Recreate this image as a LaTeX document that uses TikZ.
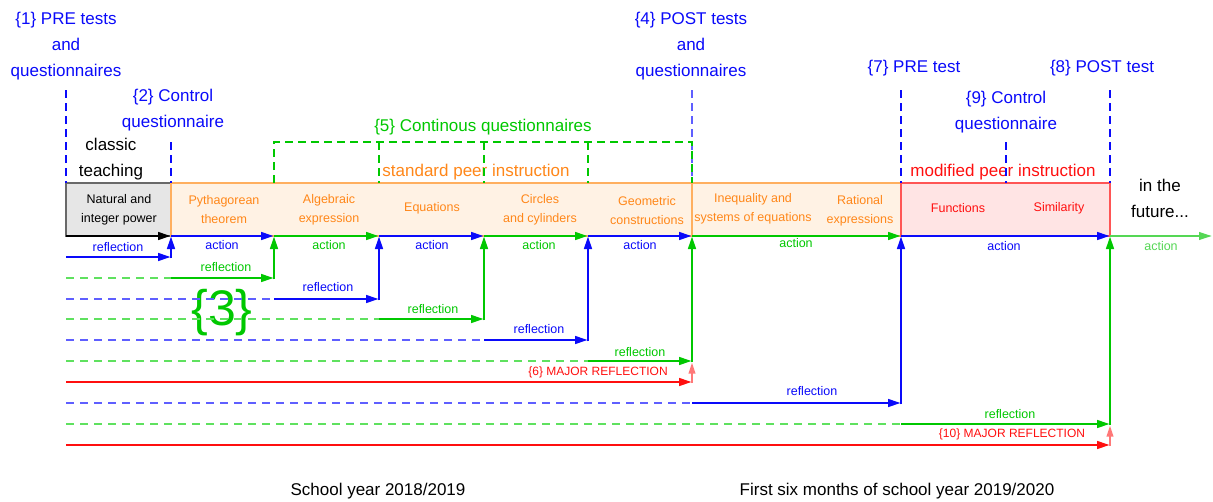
\documentclass[tikz,border=0pt]{standalone}
\usepackage{fontspec}
\setmainfont{Liberation Sans}
\usetikzlibrary{arrows.meta}
\definecolor{cblue}{RGB}{10,10,250}
\definecolor{cgreen}{RGB}{0,200,0}
\definecolor{lblue}{RGB}{95,95,255}
\definecolor{lgreen}{RGB}{95,225,95}
\definecolor{corange}{RGB}{255,135,25}
\definecolor{oborder}{RGB}{255,175,95}
\definecolor{ofill}{RGB}{255,242,228}
\definecolor{cred}{RGB}{255,15,15}
\definecolor{rborder}{RGB}{255,85,85}
\definecolor{rfill}{RGB}{255,228,228}
\definecolor{gfill}{RGB}{230,230,230}
\definecolor{gborder}{RGB}{105,105,105}
\definecolor{pred}{RGB}{255,120,120}
\definecolor{fgreen}{RGB}{85,215,85}
\tikzset{
  big/.style={font=\fontsize{17}{26}\selectfont, align=center, inner sep=0pt},
  small/.style={font=\fontsize{12.5}{19}\selectfont, align=center, inner sep=0pt},
  major/.style={font=\fontsize{12}{14}\selectfont, inner sep=0pt, text=cred},
  headed/.style={-{Triangle[length=13pt,width=7.5pt]}},
  solidarrow/.style={line width=2.8pt, headed},
  dashline/.style={line width=1.9pt, dash pattern=on 8pt off 6pt},
  vdash/.style={line width=1.7pt, dash pattern=on 8pt off 5pt},
  boxnode/.style={draw, line width=1.5pt, inner sep=0pt, minimum height=53pt},
  palearrow/.style={line width=1.8pt, pred, -{Triangle[length=11pt,width=6.5pt]}},
}
\begin{document}
\begin{tikzpicture}[x=1pt,y=-1pt]
\useasboundingbox (0,0) rectangle (1213,501);
\fill[white] (0,0) rectangle (1213,501);

% grid coordinates
\foreach \c/\x in {0/66,1/171,2/274,3/379,4/484,5/588,6/692,7/901,8/1110}{
  \coordinate (A\c) at (\x,236);
  \coordinate (T\c) at (\x,90);
  \coordinate (M\c) at (\x,142);
  \coordinate (B\c) at (\x,183);
  \foreach \r/\y in {1/257,2/278,3/299,4/319,5/340,6/361,7/382,8/403,9/424,10/445}{
    \coordinate (r\r c\c) at (\x,\y);
  }
}
\coordinate (A9) at (1212,236);
\coordinate (M9) at (1006,142);
\coordinate (B9) at (1006,183);

% boxes
\node[boxnode, draw=gborder, fill=gfill, minimum width=105pt] (natbox) at (118.5,209.5) {};
\node[boxnode, draw=oborder, fill=ofill, minimum width=521pt] (stdbox) at (431.5,209.5) {};
\node[boxnode, draw=oborder, fill=ofill, minimum width=209pt] (stdbox2) at (796.5,209.5) {};
\node[boxnode, draw=rborder, fill=rfill, minimum width=209pt] (modbox) at (1005.5,209.5) {};

% box texts
\node[small] (n1) at (119,210) {Natural and\\integer power};
\node[small, text=corange] (n2) at (224,210) {Pythagorean\\theorem};
\node[small, text=corange] (n3) at (329,210) {Algebraic\\expression};
\node[small, text=corange] (n4) at (432,208) {Equations};
\node[small, text=corange] (n5) at (540,210) {Circles\\and cylinders};
\node[small, text=corange] (n6) at (647,211) {Geometric\\constructions};
\node[small, text=corange] (n7) at (753,209) {Inequality and\\systems of equations};
\node[small, text=corange] (n8) at (860,211) {Rational\\expressions};
\node[small, text=cred] (n9) at (958,208) {Functions};
\node[small, text=cred] (n10) at (1059,208) {Similarity};

% upper labels
\node[big, text=cblue] (t1) at (66,46) {\{1\} PRE tests\\and\\questionnaires};
\node[big, text=cblue] (t2) at (173,110) {\{2\} Control\\questionnaire};
\node[big, text=cblue] (t4) at (691,46) {\{4\} POST tests\\and\\questionnaires};
\node[big, text=cblue] (t7) at (914,68) {\{7\} PRE test};
\node[big, text=cblue] (t8) at (1102,68) {\{8\} POST test};
\node[big, text=cblue] (t9) at (1006,112) {\{9\} Control\\questionnaire};
\node[big, text=cgreen] (t5) at (483,127) {\{5\} Continous questionnaires};
\node[big] (classic) at (111,159) {classic\\teaching};
\node[big, text=corange] (spi) at (476,172) {standard peer instruction};
\node[big, text=cred] (mpi) at (1003,172) {modified peer instruction};
\node[big] (future) at (1160,198) {in the\\future...};
\node[big] (sy1) at (378,491) {School year 2018/2019};
\node[big] (sy2) at (897,491) {First six months of school year 2019/2020};
\node[font=\fontsize{50}{50}\selectfont, text=cgreen, inner sep=0pt] (three) at (222,313) {\{3\}};

% dashed verticals
\draw[vdash, cblue] (T0) -- (B0);
\draw[vdash, cblue] (M1) -- (B1);
\draw[vdash, lblue] (T6) -- (B6);
\draw[vdash, cblue] (T7) -- (B7);
\draw[vdash, cblue] (T8) -- (B8);
\draw[vdash, cblue] (M9) -- (B9);
\draw[vdash, cgreen] (B2) -- (M2) -- (M6) -- (B6);
\draw[vdash, cgreen] (M3) -- (B3);
\draw[vdash, cgreen] (M4) -- (B4);
\draw[vdash, cgreen] (M5) -- (B5);

% action line
\draw[solidarrow, black] (A0) -- (A1);
\draw[solidarrow, cblue] (A1) -- (A2);
\draw[solidarrow, cgreen] (A2) -- (A3);
\draw[solidarrow, cblue] (A3) -- (A4);
\draw[solidarrow, cgreen] (A4) -- (A5);
\draw[solidarrow, cblue] (A5) -- (A6);
\draw[solidarrow, cgreen] (A6) -- (A7);
\draw[solidarrow, cblue] (A7) -- (A8);
\draw[solidarrow, fgreen, line width=2.3pt] (A8) -- (A9);
\node[small, text=cblue] (a1) at (222,245) {action};
\node[small, text=cgreen] (a2) at (329,245) {action};
\node[small, text=cblue] (a3) at (432,245) {action};
\node[small, text=cgreen] (a4) at (539,245) {action};
\node[small, text=cblue] (a5) at (640,245) {action};
\node[small, text=cgreen] (a6) at (796,243) {action};
\node[small, text=cblue] (a7) at (1004,246) {action};
\node[small, text=fgreen] (a8) at (1161,246) {action};

% row 1
\draw[solidarrow, cblue] (r1c0) -- (r1c1);
\draw[solidarrow, cblue] ([yshift=-1.4pt]r1c1) -- (A1);
% row 2
\draw[dashline, lgreen] (r2c0) -- (r2c1);
\draw[solidarrow, cgreen] (r2c1) -- (r2c2);
\draw[solidarrow, cgreen] ([yshift=-1.4pt]r2c2) -- (A2);
% row 3
\draw[dashline, lblue] (r3c0) -- (r3c2);
\draw[solidarrow, cblue] (r3c2) -- (r3c3);
\draw[solidarrow, cblue] ([yshift=-1.4pt]r3c3) -- (A3);
% row 4
\draw[dashline, lgreen] (r4c0) -- (r4c3);
\draw[solidarrow, cgreen] (r4c3) -- (r4c4);
\draw[solidarrow, cgreen] ([yshift=-1.4pt]r4c4) -- (A4);
% row 5
\draw[dashline, lblue] (r5c0) -- (r5c4);
\draw[solidarrow, cblue] (r5c4) -- (r5c5);
\draw[solidarrow, cblue] ([yshift=-1.4pt]r5c5) -- (A5);
% row 6
\draw[dashline, lgreen] (r6c0) -- (r6c5);
\draw[solidarrow, cgreen] (r6c5) -- (r6c6);
\draw[solidarrow, cgreen] ([yshift=-1.4pt]r6c6) -- (A6);
% row 7
\draw[solidarrow, cred] (r7c0) -- (r7c6);
\draw[palearrow] ([yshift=-1.2pt]r7c6) -- ([yshift=-1.5pt]r6c6);
% row 8
\draw[dashline, lblue] (r8c0) -- (r8c6);
\draw[solidarrow, cblue] (r8c6) -- (r8c7);
\draw[solidarrow, cblue] ([yshift=-1.4pt]r8c7) -- (A7);
% row 9
\draw[dashline, lgreen] (r9c0) -- (r9c7);
\draw[solidarrow, cgreen] (r9c7) -- (r9c8);
\draw[solidarrow, cgreen] ([yshift=-1.4pt]r9c8) -- (A8);
% row 10
\draw[solidarrow, cred] (r10c0) -- (r10c8);
\draw[palearrow] ([yshift=-1.2pt]r10c8) -- ([yshift=-1.5pt]r9c8);

% row labels
\node[small, text=cblue] (l1) at (118,247) {reflection};
\node[small, text=cgreen] (l2) at (226,267) {reflection};
\node[small, text=cblue] (l3) at (328,287) {reflection};
\node[small, text=cgreen] (l4) at (433,309) {reflection};
\node[small, text=cblue] (l5) at (539,329) {reflection};
\node[small, text=cgreen] (l6) at (640,352) {reflection};
\node[major] (l7) at (598,372) {\{6\} MAJOR REFLECTION};
\node[small, text=cblue] (l8) at (812,391) {reflection};
\node[small, text=cgreen] (l9) at (1010,414) {reflection};
\node[major] (l10) at (1012,434) {\{10\} MAJOR REFLECTION};
\end{tikzpicture}
\end{document}
